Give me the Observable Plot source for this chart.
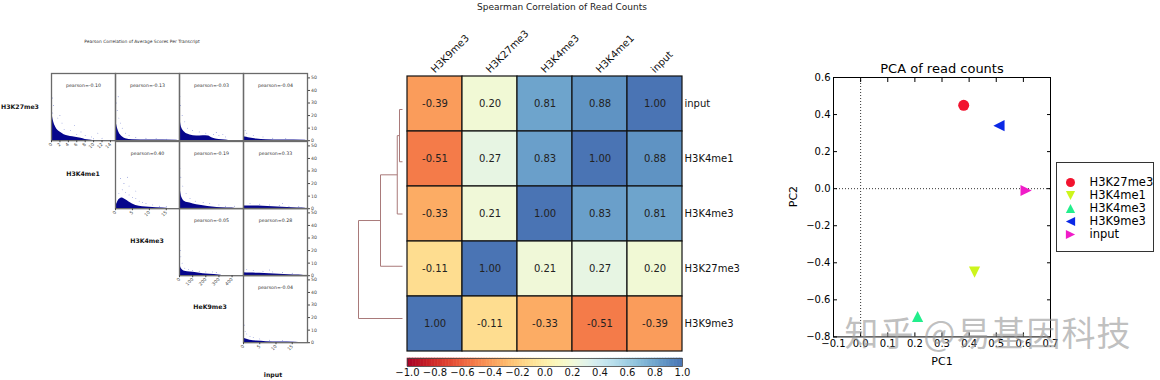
<!DOCTYPE html>
<html><head><meta charset="utf-8">
<script src="https://cdn.jsdelivr.net/npm/d3@7"></script>
<script src="https://cdn.jsdelivr.net/npm/@observablehq/plot@0.6"></script>
<style>
body{margin:0;background:#fff;}
#root{position:relative;width:1160px;height:380px;overflow:hidden;background:#fff;font-family:"DejaVu Sans",sans-serif;}
.lbl{position:absolute;white-space:nowrap;transform:translate(-50%,-50%);line-height:1;}
</style></head><body><div id="root"></div>
<script>
// ---------------- Left panel: Pearson scatter matrix ----------------
const pearsonTitle = "Pearson Correlation of Average Scores Per Transcript";
const pearsonRowLabels = ["H3K27me3","H3K4me1","H3K4me3","HeK9me3","input"];
const pearsonValues = [
  [-0.10,-0.13,-0.03,-0.04],
  [null, 0.40,-0.19, 0.33],
  [null, null,-0.05, 0.28],
  [null, null, null,-0.04]
];
const scatterXDomains = [[0,15.2],[0,18.9],[0,487],[0,19.7]];
const scatterXTicks = [[0,2,4,6,8,10,12,14],[0,5,10,15],[0,100,200,300,400],[0,5,10,15]];
const scatterYTicks = [0,10,20,30,40,50];
// dense-cloud envelopes [x, y]
const blob00 = [[0,24],[0.5,15],[1,10.7],[2.1,6.7],[3,4.8],[5,3.2],[7,1.9],[8,1],[9,0.5],[10,0]];
const blob01 = [[0,17.4],[0.5,10.7],[1,6.7],[2,3.2],[3,1.6],[5,0.8],[10,0.5],[18,0.3],[18.9,0]];
const blob02 = [[0,24],[5,17],[15,10.7],[40,6.7],[80,4.5],[130,3.7],[180,4],[220,3.7],[250,2.1],[300,1],[350,0.5],[380,0]];
const blob03 = [[0,3.2],[1,2.7],[2,2.1],[4,1.3],[7,0.8],[12,0.5],[19,0.3],[19.7,0]];
const blob11 = [[0,1.8],[0.5,4.5],[1,7.1],[2,8.5],[3,7.1],[4,5.3],[5,3.7],[6,2.6],[8,1.6],[10,1.1],[14,0.5],[16,0]];
const blob12 = [[0,23],[5,16.4],[15,9.8],[40,5.8],[80,4.5],[130,3.2],[180,2.4],[250,1.3],[320,0.8],[400,0.5],[430,0]];
const blob13 = [[0,2.1],[3,2.1],[6,1.9],[9,1.6],[12,1.1],[15,0.8],[18,0.5],[19.7,0]];
const blob22 = [[0,14],[5,8.8],[15,5.6],[40,3.5],[80,2.9],[130,2.4],[180,1.6],[230,1.1],[300,0.5],[330,0]];
const blob23 = [[0,2.4],[2,2.1],[5,1.9],[8,1.6],[11,1.1],[14,0.8],[17,0.5],[19,0]];
const blob33 = [[0,4],[1,2.7],[2,1.9],[4,1.3],[7,0.8],[11,0.5],[16,0.3],[18,0]];
// sparse outlying points
const dots00 = [[0.2,34],[0.5,28],[0.3,22],[1.5,18],[2.5,14],[3,9],[4.5,8],[6,5],[8,4],[9.5,3],[11,6],[12,2],[5.5,12],[2,20],[7,7],[10,1.5]];
const dots01 = [[0.2,30],[0.5,24],[1,18],[1.5,14],[2,10],[3,6],[4,4],[6,2.5],[9,2],[12,1.5],[15,1.2],[0.8,35]];
const dots02 = [[3,35],[8,28],[20,20],[40,15],[60,10],[100,8],[150,7],[200,6],[260,5],[300,4],[350,3],[280,6.5],[330,5]];
const dots03 = [[0.5,8],[1,6],[3,4],[6,3],[9,2],[13,1.5]];
const dots11 = [[1,12],[2,15],[3,13],[4,11],[5,9],[6,8],[7,6],[8,5],[2.5,20],[4,18],[6,14],[9,4],[11,3],[13,2],[15,1.5],[1.5,24],[3.5,25]];
const dots12 = [[3,32],[10,25],[25,18],[50,12],[80,8],[120,6],[180,5],[230,4],[300,3],[350,2],[420,2]];
const dots13 = [[2,4],[5,3.5],[8,3],[11,2.5],[14,2],[17,1.5],[12,4]];
const dots22 = [[2,25],[5,20],[10,15],[20,10],[40,6],[70,5],[100,4],[150,3.5],[200,3],[250,3],[280,2.5]];
const dots23 = [[1,5],[3,4],[6,3.5],[9,3],[12,2.5],[15,2],[8,4.5]];
const dots33 = [[0.3,14],[0.5,9],[1,7],[2,5],[3,4],[5,3],[8,2],[12,1.5]];

// ---------------- Middle panel: Spearman heatmap ----------------
const spearmanTitle = "Spearman Correlation of Read Counts";
const heatCols = ["H3K9me3","H3K27me3","H3K4me3","H3K4me1","input"];
const heatRows = ["input","H3K4me1","H3K4me3","H3K27me3","H3K9me3"];
const heatValues = [
  [-0.39, 0.20, 0.81, 0.88, 1.00],
  [-0.51, 0.27, 0.83, 1.00, 0.88],
  [-0.33, 0.21, 1.00, 0.83, 0.81],
  [-0.11, 1.00, 0.21, 0.27, 0.20],
  [ 1.00,-0.11,-0.33,-0.51,-0.39]
];
const colorbarTicks = [-1,-0.8,-0.6,-0.4,-0.2,0,0.2,0.4,0.6,0.8,1];
// dendrogram linkage (scipy style): [childA, childB, height]
const dendroLeaves = ["input","H3K4me1","H3K4me3","H3K27me3","H3K9me3"];
const dendroMerges = [[0,1,0.12],[5,2,0.21],[6,3,0.88],[7,4,1.76]];

// ---------------- Right panel: PCA ----------------
const pcaTitle = "PCA of read counts";
const pcaNames = ["H3K27me3","H3K4me1","H3K4me3","H3K9me3","input"];
const pcaPC1 = [0.38, 0.42, 0.21, 0.51, 0.61];
const pcaPC2 = [0.45,-0.45,-0.69, 0.34,-0.01];
const pcaColors = ["#f2132f","#cdf51c","#22ee8c","#0a28e6","#f01cc8"];
const pcaMarkers = ["circle","down","up","left","right"];
const pcaXTicks = [-0.1,0,0.1,0.2,0.3,0.4,0.5,0.6,0.7];
const pcaYTicks = [-0.8,-0.6,-0.4,-0.2,0,0.2,0.4,0.6];
const watermark = "知乎 @易基因科技";

// ================= rendering =================
const root = document.getElementById("root");
function place(node, left, top) {
  node.style.position = "absolute"; node.style.left = left + "px"; node.style.top = top + "px";
  root.appendChild(node); return node;
}
function label(text, cx, cy, css) {
  const d = document.createElement("div"); d.className = "lbl"; d.textContent = text;
  Object.assign(d.style, css || {}); d.style.left = cx + "px"; d.style.top = cy + "px";
  root.appendChild(d); return d;
}
const baseStyle = {background: "transparent", fontFamily: "DejaVu Sans", overflow: "visible"};

// ---- left panel
label(pearsonTitle, 142, 42, {fontSize: "4.4px", color: "#333"});
const blobs = [[blob00,blob01,blob02,blob03],[null,blob11,blob12,blob13],[null,null,blob22,blob23],[null,null,null,blob33]];
const sparse = [[dots00,dots01,dots02,dots03],[null,dots11,dots12,dots13],[null,null,dots22,dots23],[null,null,null,dots33]];
const cellLeft0 = 51, cellTop0 = 73.3, cellW = 64, cellH = 67.2;
for (let r = 0; r < 4; r++) {
  for (let c = r; c < 4; c++) {
    const diag = r === c, last = c === 3;
    const mL = 1, mT = 1, mR = last ? 24 : 1, mB = diag ? 28 : 1;
    const svg = Plot.plot({
      width: cellW + mL + mR, height: cellH + mT + mB,
      marginLeft: mL, marginTop: mT, marginRight: mR, marginBottom: mB,
      x: {domain: scatterXDomains[c], axis: null},
      y: {domain: [0, 53.5], axis: null},
      style: {...baseStyle, fontSize: "4.6px", color: "#444"},
      marks: [
        Plot.areaY(blobs[r][c], {x: d => d[0], y: d => d[1], fill: "#06068c", curve: "monotone-x", clip: true}),
        Plot.dot(sparse[r][c], {x: d => d[0], y: d => d[1], r: 0.45, fill: "#5a6ac8", clip: true}),
        Plot.text([`pearson=${pearsonValues[r][c].toFixed(2)}`], {frameAnchor: "top", lineAnchor: "middle", dy: 12, fill: "#333", fontSize: 4.7}),
        Plot.frame({stroke: "#6a6a6a", strokeWidth: 1.3}),
        diag ? Plot.axisX({ticks: scatterXTicks[c], tickSize: 2, tickRotate: -45, tickPadding: 1, label: null}) : null,
        last ? Plot.axisY({anchor: "right", ticks: scatterYTicks, tickSize: 2, tickPadding: 1.5, label: null}) : null
      ].filter(Boolean)
    });
    place(svg, cellLeft0 + c * cellW - mL, cellTop0 + r * cellH - mT);
  }
}
const rowLabelPos = [[20, 107], [83, 174], [147, 241], [210, 307], [273, 375]];
pearsonRowLabels.forEach((t, i) => label(t, rowLabelPos[i][0], rowLabelPos[i][1], {fontSize: "6.2px", fontWeight: "bold", color: "#111"}));

// ---- middle panel
label(spearmanTitle, 562, 7, {fontSize: "9px", color: "#222"});
const heatColor = {type: "linear", domain: [-1, 1], interpolate: t => d3.interpolateRdYlBu(t * 0.9)};
const heatData = heatRows.flatMap((row, i) => heatCols.map((col, j) => ({row, col, value: heatValues[i][j]})));
const heat = Plot.plot({
  width: 392, height: 45 + 277 + 1,
  marginLeft: 57, marginRight: 60, marginTop: 45, marginBottom: 1,
  x: {domain: heatCols, axis: null, padding: 0},
  y: {domain: heatRows, axis: null, padding: 0},
  color: heatColor,
  style: {...baseStyle, fontSize: "10px", color: "#111"},
  marks: [
    Plot.cell(heatData, {x: "col", y: "row", fill: "value", stroke: "#111", strokeWidth: 1.2}),
    Plot.text(heatData, {x: "col", y: "row", text: d => d.value.toFixed(2), fill: "#222"}),
    Plot.text(heatCols, {x: d => d, frameAnchor: "top", dy: -2, rotate: -45, textAnchor: "start", lineAnchor: "bottom"}),
    Plot.text(heatRows, {y: d => d, frameAnchor: "right", dx: 2, textAnchor: "start"})
  ]
});
place(heat, 350, 30);

const cbBins = d3.range(100).map(i => -1 + i * 0.02);
const cbar = Plot.plot({
  width: 392, height: 34,
  marginLeft: 57, marginRight: 60, marginTop: 8, marginBottom: 18,
  x: {domain: [-1, 1], axis: null},
  y: {domain: [0, 1], axis: null},
  color: heatColor,
  style: {...baseStyle, fontSize: "10px", color: "#111"},
  marks: [
    Plot.rect(cbBins, {x1: d => d, x2: d => d + 0.02, y1: 0, y2: 1, fill: d => d + 0.01, stroke: d => d + 0.01, strokeWidth: 0.6}),
    Plot.frame({stroke: "#444", strokeWidth: 0.8}),
    Plot.axisX({ticks: colorbarTicks, tickFormat: d3.format(".1f"), tickSize: 0, tickPadding: 2, label: null})
  ]
});
place(cbar, 350, 350);

// dendrogram
const dNodes = dendroLeaves.map((_, i) => ({y: i, h: 0}));
const dSegs = [];
for (const [a, b, h] of dendroMerges) {
  const A = dNodes[a], B = dNodes[b];
  dSegs.push({x1: A.h, y1: A.y, x2: h, y2: A.y});
  dSegs.push({x1: B.h, y1: B.y, x2: h, y2: B.y});
  dSegs.push({x1: h, y1: A.y, x2: h, y2: B.y});
  dNodes.push({y: (A.y + B.y) / 2, h});
}
const dendro = Plot.plot({
  width: 60, height: 260, margin: 0,
  x: {domain: [1.76, 0], range: [8, 52], axis: null},
  y: {domain: [0, 4], range: [29, 238], axis: null},
  style: baseStyle,
  marks: [Plot.link(dSegs, {x1: "x1", y1: "y1", x2: "x2", y2: "y2", stroke: "#a97a7a", strokeWidth: 1})]
});
place(dendro, 350, 80);

// ---- right panel
function triangle(dir) {
  return {draw(ctx, size) {
    const r = Math.sqrt(size / Math.PI);
    const pts = {up: [[0,-r],[-r,r],[r,r]], down: [[0,r],[-r,-r],[r,-r]], left: [[-r,0],[r,-r],[r,r]], right: [[r,0],[-r,-r],[-r,r]]}[dir];
    ctx.moveTo(pts[0][0], pts[0][1]); ctx.lineTo(pts[1][0], pts[1][1]); ctx.lineTo(pts[2][0], pts[2][1]); ctx.closePath();
  }};
}
const symbolOf = m => m === "circle" ? "circle" : triangle(m);
const pca = Plot.plot({
  width: 280, height: 327,
  marginLeft: 53, marginTop: 27, marginRight: 10, marginBottom: 40.6,
  x: {domain: [-0.1, 0.7], axis: null},
  y: {domain: [-0.8, 0.6], axis: null},
  style: {...baseStyle, fontSize: "10px", color: "#000"},
  marks: [
    Plot.ruleX([0], {stroke: "#333", strokeDasharray: "1,2"}),
    Plot.ruleY([0], {stroke: "#333", strokeDasharray: "1,2"}),
    ...pcaNames.map((n, i) => Plot.dot([i], {x: k => pcaPC1[k], y: k => pcaPC2[k], r: i === 0 ? 5.5 : 5.6, fill: pcaColors[i], symbol: symbolOf(pcaMarkers[i])})),
    Plot.frame({stroke: "#000", strokeWidth: 1}),
    Plot.axisX({ticks: pcaXTicks, tickFormat: d3.format(".1f"), tickSize: -4, tickPadding: 7, label: null}),
    Plot.axisX({anchor: "top", ticks: pcaXTicks, tickSize: -4, tickFormat: () => "", label: null}),
    Plot.axisY({ticks: pcaYTicks, tickFormat: d3.format(".1f"), tickSize: -4, tickPadding: 7, label: null}),
    Plot.axisY({anchor: "right", ticks: pcaYTicks, tickSize: -4, tickFormat: () => "", label: null}),
    Plot.text([pcaTitle], {frameAnchor: "top", lineAnchor: "middle", dy: -8.5, fontSize: 13}),
    Plot.text(["PC1"], {frameAnchor: "bottom", lineAnchor: "middle", dy: 25, fontSize: 11}),
    Plot.text(["PC2"], {frameAnchor: "left", lineAnchor: "middle", dx: -40, rotate: -90, fontSize: 11})
  ]
});
place(pca, 780, 50);

const legend = Plot.plot({
  width: 97, height: 89, margin: 0,
  x: {domain: [0, 1], axis: null},
  y: {type: "point", domain: pcaNames, range: [11, 80.5], axis: null},
  style: {...baseStyle, fontSize: "11.5px", color: "#000", background: "white"},
  marks: [
    Plot.frame({stroke: "#333", strokeWidth: 1}),
    ...pcaNames.map((n, i) => Plot.dot([n], {y: d => d, frameAnchor: "left", dx: 14, r: i === 0 ? 4.5 : 4.6, fill: pcaColors[i], symbol: symbolOf(pcaMarkers[i])})),
    Plot.text(pcaNames, {y: d => d, frameAnchor: "left", dx: 33, textAnchor: "start"})
  ]
});
place(legend, 1056, 162);

label(watermark, 988, 332, {fontSize: "34px", fontFamily: "'Noto Sans CJK SC'", color: "rgba(150,150,150,0.6)", letterSpacing: "1px"});
</script></body></html>
